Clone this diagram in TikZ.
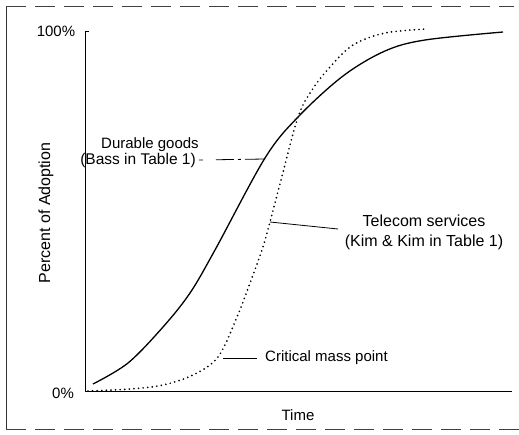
\documentclass[tikz,border=0pt]{standalone}
\usepackage{fontspec}
\setmainfont{Liberation Sans}
\begin{document}
\begin{tikzpicture}[x=1pt,y=-1pt,
  lbl/.style={font=\fontsize{15}{20}\selectfont, inner sep=0pt, align=center},
  framedash/.style={line width=0.9pt, draw=black!75, dash pattern=on 20pt off 9pt},
  axisline/.style={line width=1pt},
  bass/.style={line width=1.3pt, line join=round},
  kim/.style={line width=1.9pt, line cap=round, dash pattern=on 0pt off 4.6pt},
  leader/.style={line width=0.8pt}]
\useasboundingbox (0,0) rectangle (519,434);
% frame
\coordinate (f1) at (6,6);
\coordinate (f2) at (514,6);
\coordinate (f3) at (6,429);
\coordinate (f4) at (519,429);
\draw[line width=0.9pt, draw=black!80] (f1) -- (f3);
\draw[framedash] (f1) -- (f2);
\draw[framedash] (f3) -- (f4);
% axes
\coordinate (o) at (85,391);
\coordinate (ytop) at (85,31);
\coordinate (ytick) at (89,31);
\coordinate (xend) at (512,391);
\draw[axisline] (ytick) -- (ytop) -- (o) -- (xend);
\node[lbl] (p100) at (56,31) {100\%};
\node[lbl] (p0) at (63,393) {0\%};
\node[lbl] (time) at (298,415) {Time};
\node[lbl, rotate=90, font=\fontsize{16}{20}\selectfont] (ylab) at (46,213) {Percent of Adoption};
% curves
\draw[bass] plot[smooth, tension=0.55] coordinates {(93,384) (128,363) (163,327) (190,293) (215,250) (265,158) (298,117) (343,76) (385,51) (425,40) (503,32)};
\draw[kim] plot[smooth, tension=0.55] coordinates {(88,391) (130,389) (163,385) (193,375) (218,357) (237,317) (250,283) (262,250) (270,222) (281,180) (298,117) (312,90) (330,67) (353,45) (385,33) (427,29)};
% labels and leaders
\node[lbl] (dur1) at (150,145) {Durable goods};
\node[lbl, font=\fontsize{15.5}{20}\selectfont] (dur2) at (138,160) {(Bass in Table 1)};
\coordinate (bassp) at (265,159);
\coordinate (bassl) at ([xshift=3pt]dur2.east);
\draw[leader, dash pattern=on 4pt off 13pt on 18pt off 4pt on 3pt off 4pt on 40pt] (bassl) -- (bassp);
\node[lbl, font=\fontsize{16}{20}\selectfont] (tel) at (424,232) {Telecom services\\(Kim \& Kim in Table 1)};
\coordinate (kimp) at (270,222);
\coordinate (kiml) at (338,229);
\draw[leader] (kimp) -- (kiml);
\node[lbl, anchor=west] (crit) at (265,358) {Critical mass point};
\coordinate (critp) at (223,358);
\coordinate (critl) at ([xshift=-8pt]crit.west);
\draw[leader] (critp) -- (critl);
\end{tikzpicture}
\end{document}
